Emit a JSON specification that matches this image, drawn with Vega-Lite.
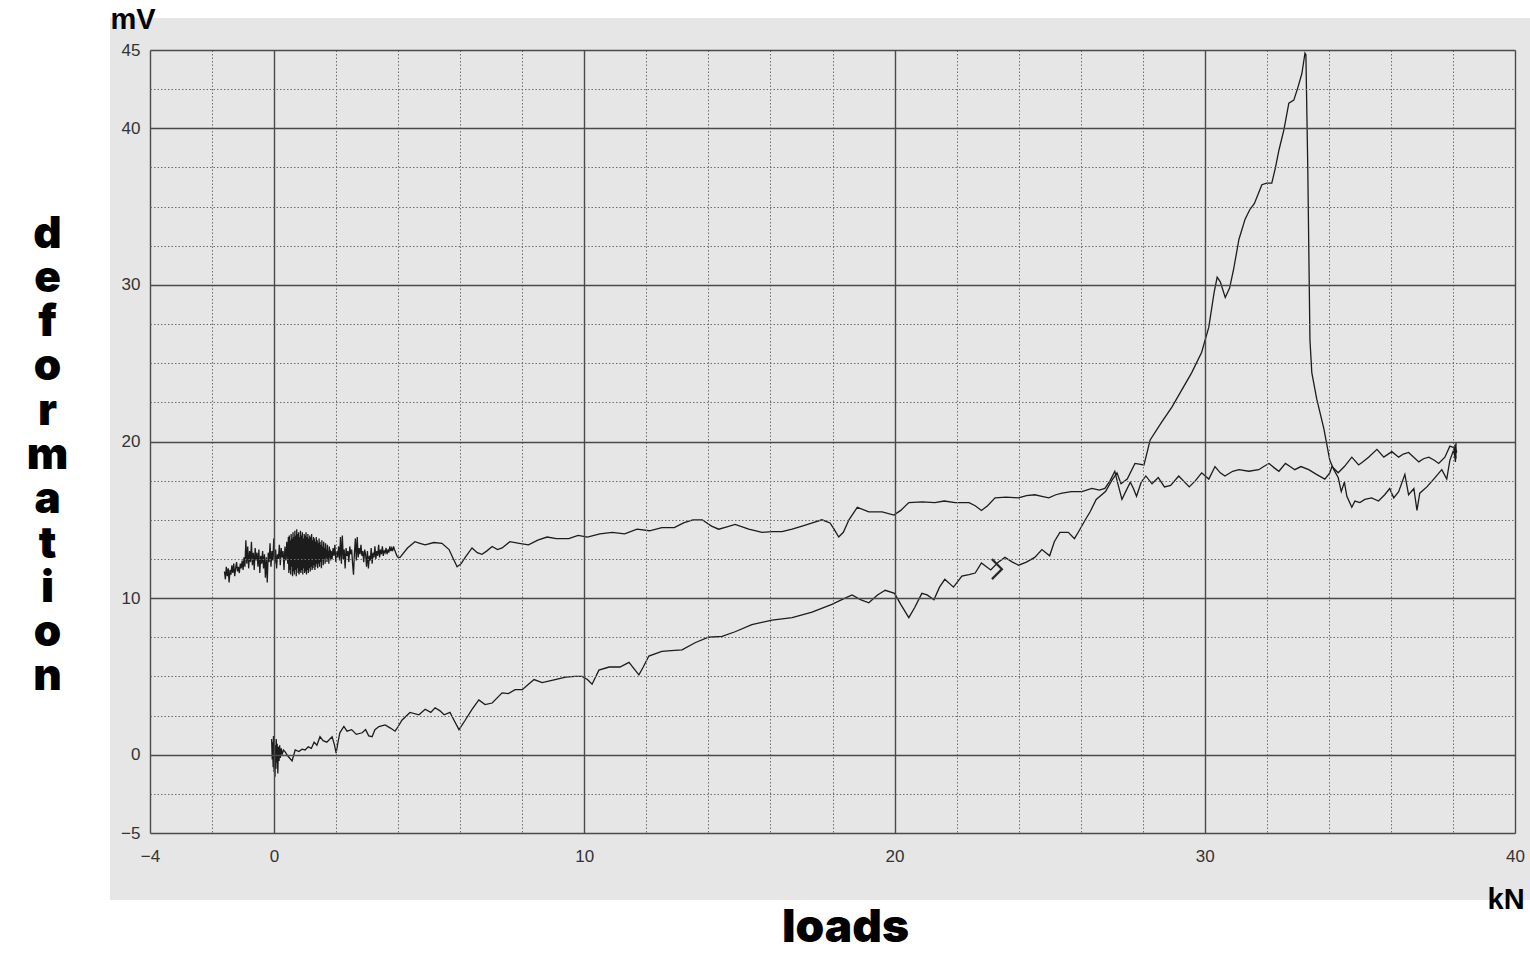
{
  "$schema": "https://vega.github.io/schema/vega-lite/v6.json",
  "width": 1365,
  "height": 783,
  "autosize": {"type": "none"},
  "padding": {"left": 150, "top": 50, "right": 15, "bottom": 120},
  "background": "white",
  "config": {"view": {"stroke": null}},
  "datasets": {
    "paper": [{"x1": -5.29, "x2": 40.5, "y1": -9.28, "y2": 47.05}],
    "marker": [{"x": 23.3, "y": 11.85}],
    "curves": [
      {"s":"B","x":-1.6,"y":11.7},{"s":"B","x":-1.57,"y":11.2},{"s":"B","x":-1.54,"y":12.0},{"s":"B","x":-1.51,"y":11.4},{"s":"B","x":-1.48,"y":11.9},{"s":"B","x":-1.45,"y":11.0},{"s":"B","x":-1.42,"y":11.8},{"s":"B","x":-1.39,"y":11.5},{"s":"B","x":-1.36,"y":12.1},{"s":"B","x":-1.33,"y":11.6},{"s":"B","x":-1.3,"y":12.2},{"s":"B","x":-1.27,"y":11.4},{"s":"B","x":-1.24,"y":11.9},{"s":"B","x":-1.21,"y":12.3},{"s":"B","x":-1.18,"y":11.7},{"s":"B","x":-1.15,"y":12.0},{"s":"B","x":-1.12,"y":11.6},{"s":"B","x":-1.09,"y":12.2},{"s":"B","x":-1.06,"y":11.9},{"s":"B","x":-1.03,"y":12.4},{"s":"B","x":-1.0,"y":11.8},{"s":"B","x":-0.97,"y":12.6},{"s":"B","x":-0.94,"y":12.0},{"s":"B","x":-0.91,"y":13.7},{"s":"B","x":-0.88,"y":12.2},{"s":"B","x":-0.85,"y":13.3},{"s":"B","x":-0.82,"y":11.9},{"s":"B","x":-0.79,"y":13.0},{"s":"B","x":-0.76,"y":12.3},{"s":"B","x":-0.73,"y":13.6},{"s":"B","x":-0.7,"y":12.1},{"s":"B","x":-0.67,"y":12.9},{"s":"B","x":-0.64,"y":11.8},{"s":"B","x":-0.61,"y":13.2},{"s":"B","x":-0.58,"y":12.4},{"s":"B","x":-0.55,"y":12.9},{"s":"B","x":-0.52,"y":12.0},{"s":"B","x":-0.49,"y":13.1},{"s":"B","x":-0.46,"y":11.6},{"s":"B","x":-0.43,"y":12.7},{"s":"B","x":-0.4,"y":12.2},{"s":"B","x":-0.37,"y":13.0},{"s":"B","x":-0.34,"y":11.9},{"s":"B","x":-0.31,"y":12.8},{"s":"B","x":-0.28,"y":11.3},{"s":"B","x":-0.25,"y":12.6},{"s":"B","x":-0.22,"y":11.0},{"s":"B","x":-0.19,"y":12.9},{"s":"B","x":-0.16,"y":12.3},{"s":"B","x":-0.13,"y":13.5},{"s":"B","x":-0.1,"y":12.0},{"s":"B","x":-0.07,"y":13.0},{"s":"B","x":-0.04,"y":12.4},{"s":"B","x":-0.01,"y":13.8},{"s":"B","x":0.02,"y":12.2},{"s":"B","x":0.05,"y":13.1},{"s":"B","x":0.08,"y":11.9},{"s":"B","x":0.11,"y":12.8},{"s":"B","x":0.14,"y":12.5},{"s":"B","x":0.17,"y":13.4},{"s":"B","x":0.2,"y":12.1},{"s":"B","x":0.23,"y":13.2},{"s":"B","x":0.26,"y":12.6},{"s":"B","x":0.29,"y":13.0},{"s":"B","x":0.32,"y":11.8},{"s":"B","x":0.35,"y":13.3},{"s":"B","x":0.38,"y":12.4},{"s":"B","x":0.41,"y":13.6},{"s":"B","x":0.44,"y":12.2},
      {"s":"B","x":0.46,"y":13.9},{"s":"B","x":0.475,"y":11.6},{"s":"B","x":0.49,"y":14.0},{"s":"B","x":0.505,"y":11.8},{"s":"B","x":0.52,"y":13.7},{"s":"B","x":0.535,"y":11.5},{"s":"B","x":0.55,"y":14.1},{"s":"B","x":0.565,"y":12.0},{"s":"B","x":0.58,"y":13.8},{"s":"B","x":0.595,"y":11.4},{"s":"B","x":0.61,"y":14.2},{"s":"B","x":0.625,"y":11.7},{"s":"B","x":0.64,"y":13.9},{"s":"B","x":0.655,"y":11.5},{"s":"B","x":0.67,"y":14.3},{"s":"B","x":0.685,"y":11.8},{"s":"B","x":0.7,"y":14.0},{"s":"B","x":0.715,"y":11.4},{"s":"B","x":0.73,"y":14.4},{"s":"B","x":0.745,"y":11.9},{"s":"B","x":0.76,"y":14.1},{"s":"B","x":0.775,"y":11.6},{"s":"B","x":0.79,"y":14.2},{"s":"B","x":0.805,"y":11.5},{"s":"B","x":0.82,"y":13.9},{"s":"B","x":0.835,"y":11.7},{"s":"B","x":0.85,"y":14.3},{"s":"B","x":0.865,"y":11.6},{"s":"B","x":0.88,"y":14.0},{"s":"B","x":0.895,"y":11.8},{"s":"B","x":0.91,"y":14.2},{"s":"B","x":0.925,"y":11.5},{"s":"B","x":0.94,"y":13.8},{"s":"B","x":0.955,"y":11.9},{"s":"B","x":0.97,"y":14.1},{"s":"B","x":0.985,"y":11.6},{"s":"B","x":1.0,"y":14.0},{"s":"B","x":1.015,"y":11.7},{"s":"B","x":1.03,"y":14.2},{"s":"B","x":1.045,"y":11.5},{"s":"B","x":1.06,"y":13.9},{"s":"B","x":1.075,"y":11.8},{"s":"B","x":1.09,"y":14.1},{"s":"B","x":1.105,"y":11.6},{"s":"B","x":1.12,"y":13.8},{"s":"B","x":1.135,"y":11.9},{"s":"B","x":1.15,"y":14.0},{"s":"B","x":1.165,"y":11.7},{"s":"B","x":1.18,"y":13.9},{"s":"B","x":1.195,"y":12.0},{"s":"B","x":1.21,"y":14.1},{"s":"B","x":1.225,"y":11.8},{"s":"B","x":1.24,"y":13.7},{"s":"B","x":1.255,"y":11.9},{"s":"B","x":1.27,"y":13.9},{"s":"B","x":1.285,"y":12.1},{"s":"B","x":1.3,"y":13.8},{"s":"B","x":1.315,"y":11.8},{"s":"B","x":1.33,"y":13.6},{"s":"B","x":1.345,"y":12.0},{"s":"B","x":1.36,"y":13.9},{"s":"B","x":1.375,"y":12.2},{"s":"B","x":1.39,"y":13.7},{"s":"B","x":1.405,"y":11.9},{"s":"B","x":1.42,"y":13.5},{"s":"B","x":1.435,"y":12.2},{"s":"B","x":1.45,"y":13.8},{"s":"B","x":1.465,"y":12.0},{"s":"B","x":1.48,"y":13.6},{"s":"B","x":1.495,"y":12.3},{"s":"B","x":1.51,"y":13.4},{"s":"B","x":1.525,"y":11.9},{"s":"B","x":1.54,"y":13.7},{"s":"B","x":1.555,"y":12.4},{"s":"B","x":1.57,"y":13.3},{"s":"B","x":1.585,"y":12.1},{"s":"B","x":1.6,"y":13.6},{"s":"B","x":1.615,"y":12.5},{"s":"B","x":1.63,"y":13.2},{"s":"B","x":1.645,"y":12.2},{"s":"B","x":1.66,"y":13.5},{"s":"B","x":1.675,"y":12.6},{"s":"B","x":1.69,"y":13.1},{"s":"B","x":1.705,"y":12.3},{"s":"B","x":1.72,"y":13.4},{"s":"B","x":1.735,"y":12.5},{"s":"B","x":1.75,"y":13.0},{"s":"B","x":1.765,"y":12.2},{"s":"B","x":1.78,"y":13.3},{"s":"B","x":1.795,"y":12.6},{"s":"B","x":1.81,"y":13.1},{"s":"B","x":1.825,"y":12.4},{"s":"B","x":1.84,"y":13.0},
      {"s":"B","x":1.87,"y":12.5},{"s":"B","x":1.9,"y":13.2},{"s":"B","x":1.93,"y":12.7},{"s":"B","x":1.96,"y":13.4},{"s":"B","x":1.99,"y":12.3},{"s":"B","x":2.02,"y":13.0},{"s":"B","x":2.05,"y":12.6},{"s":"B","x":2.08,"y":13.3},{"s":"B","x":2.11,"y":12.4},{"s":"B","x":2.14,"y":13.9},{"s":"B","x":2.17,"y":12.2},{"s":"B","x":2.2,"y":14.0},{"s":"B","x":2.23,"y":12.5},{"s":"B","x":2.26,"y":13.1},{"s":"B","x":2.29,"y":11.9},{"s":"B","x":2.32,"y":13.2},{"s":"B","x":2.35,"y":12.7},{"s":"B","x":2.38,"y":13.0},{"s":"B","x":2.41,"y":12.3},{"s":"B","x":2.44,"y":13.3},{"s":"B","x":2.47,"y":12.8},{"s":"B","x":2.5,"y":13.1},{"s":"B","x":2.53,"y":12.2},{"s":"B","x":2.56,"y":11.5},{"s":"B","x":2.59,"y":12.9},{"s":"B","x":2.62,"y":13.8},{"s":"B","x":2.65,"y":12.4},{"s":"B","x":2.68,"y":13.9},{"s":"B","x":2.71,"y":12.6},{"s":"B","x":2.74,"y":13.2},{"s":"B","x":2.77,"y":12.8},{"s":"B","x":2.8,"y":13.4},{"s":"B","x":2.83,"y":12.7},{"s":"B","x":2.86,"y":13.0},{"s":"B","x":2.89,"y":12.3},{"s":"B","x":2.92,"y":13.1},{"s":"B","x":2.95,"y":12.8},{"s":"B","x":2.98,"y":12.0},{"s":"B","x":3.01,"y":13.0},{"s":"B","x":3.04,"y":11.9},{"s":"B","x":3.07,"y":12.7},{"s":"B","x":3.1,"y":12.4},{"s":"B","x":3.13,"y":13.2},{"s":"B","x":3.16,"y":12.2},{"s":"B","x":3.19,"y":12.9},{"s":"B","x":3.22,"y":12.6},{"s":"B","x":3.25,"y":13.3},{"s":"B","x":3.28,"y":12.5},{"s":"B","x":3.31,"y":13.0},{"s":"B","x":3.34,"y":12.7},{"s":"B","x":3.37,"y":13.4},{"s":"B","x":3.4,"y":12.6},{"s":"B","x":3.43,"y":13.1},{"s":"B","x":3.46,"y":12.8},{"s":"B","x":3.49,"y":13.3},{"s":"B","x":3.52,"y":12.7},{"s":"B","x":3.55,"y":13.0},{"s":"B","x":3.58,"y":12.9},{"s":"B","x":3.61,"y":13.2},{"s":"B","x":3.64,"y":12.8},{"s":"B","x":3.67,"y":13.1},{"s":"B","x":3.7,"y":12.9},{"s":"B","x":3.73,"y":13.3},{"s":"B","x":3.76,"y":13.0},{"s":"B","x":3.79,"y":13.2},{"s":"B","x":3.82,"y":13.0},{"s":"B","x":3.85,"y":13.3},{"s":"B","x":3.88,"y":13.1},{"s":"B","x":3.92,"y":12.9},{"s":"B","x":3.96,"y":12.7},{"s":"B","x":4.0,"y":12.6},
      {"s":"B","x":4.06,"y":12.6},{"s":"B","x":4.3,"y":13.2},{"s":"B","x":4.54,"y":13.6},{"s":"B","x":4.7,"y":13.5},{"s":"B","x":4.87,"y":13.4},{"s":"B","x":5.15,"y":13.55},{"s":"B","x":5.41,"y":13.5},{"s":"B","x":5.64,"y":13.1},{"s":"B","x":5.78,"y":12.5},{"s":"B","x":5.9,"y":12.0},{"s":"B","x":6.03,"y":12.2},{"s":"B","x":6.16,"y":12.6},{"s":"B","x":6.38,"y":13.2},{"s":"B","x":6.55,"y":12.9},{"s":"B","x":6.7,"y":12.8},{"s":"B","x":6.85,"y":13.0},{"s":"B","x":7.03,"y":13.3},{"s":"B","x":7.2,"y":13.1},{"s":"B","x":7.35,"y":13.2},{"s":"B","x":7.6,"y":13.6},{"s":"B","x":7.9,"y":13.5},{"s":"B","x":8.2,"y":13.4},{"s":"B","x":8.5,"y":13.7},{"s":"B","x":8.8,"y":13.9},{"s":"B","x":9.1,"y":13.8},{"s":"B","x":9.5,"y":13.8},{"s":"B","x":9.8,"y":14.0},{"s":"B","x":10.1,"y":13.9},{"s":"B","x":10.5,"y":14.1},{"s":"B","x":10.9,"y":14.2},{"s":"B","x":11.3,"y":14.1},{"s":"B","x":11.7,"y":14.4},{"s":"B","x":12.1,"y":14.3},{"s":"B","x":12.5,"y":14.5},{"s":"B","x":12.9,"y":14.5},{"s":"B","x":13.2,"y":14.8},{"s":"B","x":13.5,"y":15.0},{"s":"B","x":13.8,"y":15.0},{"s":"B","x":14.1,"y":14.6},{"s":"B","x":14.33,"y":14.4},{"s":"B","x":14.6,"y":14.55},{"s":"B","x":14.86,"y":14.7},{"s":"B","x":15.3,"y":14.4},{"s":"B","x":15.73,"y":14.2},{"s":"B","x":16.05,"y":14.25},{"s":"B","x":16.37,"y":14.25},{"s":"B","x":16.7,"y":14.4},{"s":"B","x":17.02,"y":14.6},{"s":"B","x":17.35,"y":14.8},{"s":"B","x":17.66,"y":15.0},{"s":"B","x":17.92,"y":14.8},{"s":"B","x":18.05,"y":14.4},{"s":"B","x":18.2,"y":13.9},{"s":"B","x":18.35,"y":14.2},{"s":"B","x":18.53,"y":15.0},{"s":"B","x":18.8,"y":15.8},{"s":"B","x":19.17,"y":15.5},{"s":"B","x":19.6,"y":15.5},{"s":"B","x":19.98,"y":15.3},{"s":"B","x":20.2,"y":15.6},{"s":"B","x":20.46,"y":16.1},{"s":"B","x":20.9,"y":16.15},{"s":"B","x":21.3,"y":16.1},{"s":"B","x":21.6,"y":16.2},{"s":"B","x":21.95,"y":16.1},{"s":"B","x":22.4,"y":16.1},{"s":"B","x":22.6,"y":15.9},{"s":"B","x":22.8,"y":15.6},{"s":"B","x":23.0,"y":15.9},{"s":"B","x":23.24,"y":16.4},{"s":"B","x":23.6,"y":16.45},{"s":"B","x":24.0,"y":16.4},{"s":"B","x":24.25,"y":16.55},{"s":"B","x":24.52,"y":16.6},{"s":"B","x":24.75,"y":16.5},{"s":"B","x":24.97,"y":16.4},{"s":"B","x":25.2,"y":16.6},{"s":"B","x":25.4,"y":16.7},{"s":"B","x":25.7,"y":16.8},{"s":"B","x":26.04,"y":16.8},{"s":"B","x":26.36,"y":17.0},{"s":"B","x":26.6,"y":16.9},{"s":"B","x":26.78,"y":17.0},{"s":"B","x":26.95,"y":17.5},{"s":"B","x":27.1,"y":18.1},{"s":"B","x":27.2,"y":17.3},{"s":"B","x":27.33,"y":16.3},{"s":"B","x":27.45,"y":16.8},{"s":"B","x":27.6,"y":17.4},{"s":"B","x":27.7,"y":17.0},{"s":"B","x":27.8,"y":16.5},{"s":"B","x":27.95,"y":17.4},{"s":"B","x":28.1,"y":17.8},{"s":"B","x":28.3,"y":17.3},{"s":"B","x":28.5,"y":17.7},{"s":"B","x":28.7,"y":17.1},{"s":"B","x":28.9,"y":17.2},{"s":"B","x":29.16,"y":17.8},{"s":"B","x":29.5,"y":17.1},{"s":"B","x":29.7,"y":17.5},{"s":"B","x":29.9,"y":18.0},{"s":"B","x":30.13,"y":17.6},{"s":"B","x":30.33,"y":18.4},{"s":"B","x":30.5,"y":18.0},{"s":"B","x":30.65,"y":17.8},{"s":"B","x":30.9,"y":18.1},{"s":"B","x":31.1,"y":18.2},{"s":"B","x":31.42,"y":18.1},{"s":"B","x":31.74,"y":18.2},{"s":"B","x":31.9,"y":18.4},{"s":"B","x":32.07,"y":18.6},{"s":"B","x":32.25,"y":18.3},{"s":"B","x":32.39,"y":18.1},{"s":"B","x":32.6,"y":18.6},{"s":"B","x":32.75,"y":18.4},{"s":"B","x":32.9,"y":18.2},{"s":"B","x":33.1,"y":18.4},{"s":"B","x":33.35,"y":18.2},{"s":"B","x":33.6,"y":17.9},{"s":"B","x":33.87,"y":17.6},{"s":"B","x":34.03,"y":18.0},{"s":"B","x":34.1,"y":18.4},{"s":"B","x":34.3,"y":18.0},{"s":"B","x":34.5,"y":18.4},{"s":"B","x":34.74,"y":19.0},{"s":"B","x":34.96,"y":18.5},{"s":"B","x":35.1,"y":18.7},{"s":"B","x":35.28,"y":19.0},{"s":"B","x":35.55,"y":19.5},{"s":"B","x":35.77,"y":19.0},{"s":"B","x":36.03,"y":19.35},{"s":"B","x":36.25,"y":19.0},{"s":"B","x":36.4,"y":19.2},{"s":"B","x":36.57,"y":19.3},{"s":"B","x":36.9,"y":18.7},{"s":"B","x":37.05,"y":18.9},{"s":"B","x":37.22,"y":19.0},{"s":"B","x":37.4,"y":18.8},{"s":"B","x":37.54,"y":18.6},{"s":"B","x":37.74,"y":19.0},{"s":"B","x":37.9,"y":19.7},{"s":"B","x":38.03,"y":19.6},{"s":"B","x":38.1,"y":18.9},{"s":"B","x":38.06,"y":19.8},{"s":"B","x":38.12,"y":19.3},
      {"s":"A","x":-0.08,"y":1.0},{"s":"A","x":-0.06,"y":-0.3},{"s":"A","x":-0.05,"y":0.8},{"s":"A","x":-0.03,"y":-0.8},{"s":"A","x":-0.02,"y":1.2},{"s":"A","x":0.0,"y":-1.1},{"s":"A","x":0.01,"y":0.9},{"s":"A","x":0.03,"y":-1.4},{"s":"A","x":0.04,"y":0.6},{"s":"A","x":0.06,"y":-0.9},{"s":"A","x":0.07,"y":1.0},{"s":"A","x":0.09,"y":-0.5},{"s":"A","x":0.1,"y":0.7},{"s":"A","x":0.12,"y":-1.2},{"s":"A","x":0.14,"y":0.5},{"s":"A","x":0.16,"y":-0.4},{"s":"A","x":0.18,"y":0.6},{"s":"A","x":0.2,"y":-0.2},{"s":"A","x":0.23,"y":0.4},{"s":"A","x":0.26,"y":0.0},{"s":"A","x":0.3,"y":0.3},{"s":"A","x":0.35,"y":0.2},{"s":"A","x":0.45,"y":-0.1},{"s":"A","x":0.58,"y":-0.4},{"s":"A","x":0.68,"y":0.3},{"s":"A","x":0.8,"y":0.2},{"s":"A","x":0.9,"y":0.35},{"s":"A","x":1.0,"y":0.3},{"s":"A","x":1.1,"y":0.5},{"s":"A","x":1.2,"y":0.4},{"s":"A","x":1.29,"y":0.8},{"s":"A","x":1.38,"y":0.6},{"s":"A","x":1.48,"y":1.15},{"s":"A","x":1.58,"y":0.9},{"s":"A","x":1.7,"y":0.8},{"s":"A","x":1.87,"y":1.15},{"s":"A","x":1.95,"y":0.6},{"s":"A","x":2.0,"y":0.1},{"s":"A","x":2.06,"y":0.8},{"s":"A","x":2.12,"y":1.4},{"s":"A","x":2.25,"y":1.8},{"s":"A","x":2.35,"y":1.5},{"s":"A","x":2.5,"y":1.6},{"s":"A","x":2.65,"y":1.3},{"s":"A","x":2.84,"y":1.4},{"s":"A","x":2.95,"y":1.6},{"s":"A","x":3.05,"y":1.2},{"s":"A","x":3.16,"y":1.15},{"s":"A","x":3.25,"y":1.6},{"s":"A","x":3.38,"y":1.8},{"s":"A","x":3.58,"y":1.9},{"s":"A","x":3.75,"y":1.7},{"s":"A","x":3.9,"y":1.5},{"s":"A","x":4.0,"y":1.8},{"s":"A","x":4.12,"y":2.2},{"s":"A","x":4.38,"y":2.7},{"s":"A","x":4.67,"y":2.55},{"s":"A","x":4.87,"y":2.9},{"s":"A","x":5.05,"y":2.7},{"s":"A","x":5.19,"y":3.0},{"s":"A","x":5.35,"y":2.8},{"s":"A","x":5.48,"y":2.55},{"s":"A","x":5.67,"y":2.7},{"s":"A","x":5.8,"y":2.2},{"s":"A","x":5.96,"y":1.6},{"s":"A","x":6.16,"y":2.2},{"s":"A","x":6.38,"y":2.9},{"s":"A","x":6.6,"y":3.5},{"s":"A","x":6.8,"y":3.2},{"s":"A","x":7.03,"y":3.3},{"s":"A","x":7.35,"y":3.95},{"s":"A","x":7.55,"y":3.9},{"s":"A","x":7.77,"y":4.15},{"s":"A","x":8.0,"y":4.15},{"s":"A","x":8.2,"y":4.5},{"s":"A","x":8.38,"y":4.8},{"s":"A","x":8.64,"y":4.6},{"s":"A","x":9.06,"y":4.8},{"s":"A","x":9.4,"y":4.95},{"s":"A","x":9.7,"y":5.0},{"s":"A","x":9.93,"y":5.0},{"s":"A","x":10.1,"y":4.8},{"s":"A","x":10.25,"y":4.5},{"s":"A","x":10.47,"y":5.4},{"s":"A","x":10.8,"y":5.6},{"s":"A","x":11.15,"y":5.6},{"s":"A","x":11.44,"y":5.9},{"s":"A","x":11.6,"y":5.5},{"s":"A","x":11.76,"y":5.1},{"s":"A","x":11.9,"y":5.6},{"s":"A","x":12.08,"y":6.3},{"s":"A","x":12.5,"y":6.6},{"s":"A","x":12.8,"y":6.65},{"s":"A","x":13.15,"y":6.7},{"s":"A","x":13.57,"y":7.15},{"s":"A","x":14.0,"y":7.5},{"s":"A","x":14.44,"y":7.55},{"s":"A","x":14.86,"y":7.85},{"s":"A","x":15.4,"y":8.3},{"s":"A","x":16.05,"y":8.6},{"s":"A","x":16.7,"y":8.75},{"s":"A","x":17.34,"y":9.1},{"s":"A","x":17.98,"y":9.6},{"s":"A","x":18.3,"y":9.9},{"s":"A","x":18.63,"y":10.2},{"s":"A","x":18.9,"y":9.9},{"s":"A","x":19.17,"y":9.7},{"s":"A","x":19.45,"y":10.2},{"s":"A","x":19.7,"y":10.5},{"s":"A","x":20.0,"y":10.3},{"s":"A","x":20.2,"y":9.6},{"s":"A","x":20.46,"y":8.75},{"s":"A","x":20.65,"y":9.4},{"s":"A","x":20.88,"y":10.3},{"s":"A","x":21.05,"y":10.2},{"s":"A","x":21.27,"y":9.9},{"s":"A","x":21.45,"y":10.7},{"s":"A","x":21.62,"y":11.2},{"s":"A","x":21.9,"y":10.7},{"s":"A","x":22.17,"y":11.4},{"s":"A","x":22.4,"y":11.5},{"s":"A","x":22.6,"y":11.6},{"s":"A","x":22.8,"y":12.25},{"s":"A","x":23.1,"y":11.8},{"s":"A","x":23.35,"y":12.3},{"s":"A","x":23.56,"y":12.6},{"s":"A","x":23.8,"y":12.3},{"s":"A","x":24.0,"y":12.1},{"s":"A","x":24.25,"y":12.3},{"s":"A","x":24.52,"y":12.6},{"s":"A","x":24.75,"y":13.1},{"s":"A","x":25.0,"y":12.7},{"s":"A","x":25.15,"y":13.6},{"s":"A","x":25.33,"y":14.2},{"s":"A","x":25.6,"y":14.2},{"s":"A","x":25.8,"y":13.8},{"s":"A","x":25.95,"y":14.3},{"s":"A","x":26.15,"y":15.0},{"s":"A","x":26.3,"y":15.5},{"s":"A","x":26.5,"y":16.3},{"s":"A","x":26.8,"y":16.8},{"s":"A","x":27.0,"y":17.5},{"s":"A","x":27.17,"y":18.0},{"s":"A","x":27.3,"y":17.3},{"s":"A","x":27.5,"y":17.6},{"s":"A","x":27.75,"y":18.6},{"s":"A","x":28.04,"y":18.5},{"s":"A","x":28.24,"y":20.1},{"s":"A","x":28.6,"y":21.2},{"s":"A","x":28.94,"y":22.2},{"s":"A","x":29.26,"y":23.3},{"s":"A","x":29.58,"y":24.4},{"s":"A","x":29.9,"y":25.7},{"s":"A","x":30.13,"y":27.3},{"s":"A","x":30.3,"y":29.5},{"s":"A","x":30.4,"y":30.5},{"s":"A","x":30.5,"y":30.2},{"s":"A","x":30.66,"y":29.2},{"s":"A","x":30.8,"y":29.8},{"s":"A","x":30.93,"y":31.0},{"s":"A","x":31.1,"y":32.9},{"s":"A","x":31.3,"y":34.2},{"s":"A","x":31.45,"y":34.8},{"s":"A","x":31.6,"y":35.2},{"s":"A","x":31.84,"y":36.4},{"s":"A","x":32.0,"y":36.5},{"s":"A","x":32.16,"y":36.5},{"s":"A","x":32.28,"y":37.5},{"s":"A","x":32.39,"y":38.6},{"s":"A","x":32.55,"y":39.9},{"s":"A","x":32.71,"y":41.6},{"s":"A","x":32.87,"y":41.8},{"s":"A","x":33.0,"y":42.6},{"s":"A","x":33.13,"y":43.5},{"s":"A","x":33.23,"y":44.8},{"s":"A","x":33.26,"y":44.7},{"s":"A","x":33.32,"y":37.5},{"s":"A","x":33.39,"y":26.5},{"s":"A","x":33.45,"y":24.4},{"s":"A","x":33.61,"y":22.7},{"s":"A","x":33.84,"y":20.8},{"s":"A","x":34.03,"y":18.8},{"s":"A","x":34.16,"y":18.2},{"s":"A","x":34.3,"y":17.7},{"s":"A","x":34.4,"y":16.8},{"s":"A","x":34.5,"y":17.4},{"s":"A","x":34.58,"y":16.5},{"s":"A","x":34.74,"y":15.8},{"s":"A","x":34.84,"y":16.2},{"s":"A","x":35.0,"y":16.1},{"s":"A","x":35.16,"y":16.3},{"s":"A","x":35.38,"y":16.4},{"s":"A","x":35.6,"y":16.2},{"s":"A","x":35.8,"y":16.6},{"s":"A","x":35.96,"y":17.0},{"s":"A","x":36.09,"y":16.4},{"s":"A","x":36.25,"y":16.8},{"s":"A","x":36.45,"y":17.9},{"s":"A","x":36.57,"y":16.6},{"s":"A","x":36.74,"y":17.0},{"s":"A","x":36.84,"y":15.6},{"s":"A","x":36.93,"y":16.7},{"s":"A","x":37.16,"y":17.1},{"s":"A","x":37.38,"y":17.6},{"s":"A","x":37.64,"y":18.2},{"s":"A","x":37.8,"y":17.6},{"s":"A","x":37.9,"y":18.8},{"s":"A","x":38.03,"y":19.5},{"s":"A","x":38.08,"y":18.7},{"s":"A","x":38.1,"y":19.9},{"s":"A","x":38.06,"y":19.0},{"s":"A","x":38.12,"y":19.4}
    ]
  },
  "resolve": {"axis": {"x": "independent", "y": "independent"}},
  "layer": [
    {
      "data": {"name": "paper"},
      "mark": {"type": "rect", "color": "#e6e6e6"},
      "encoding": {
        "x": {"field": "x1", "type": "quantitative", "scale": {"domain": [-4, 40], "nice": false, "zero": false}, "axis": null},
        "x2": {"field": "x2"},
        "y": {"field": "y1", "type": "quantitative", "scale": {"domain": [-5, 45], "nice": false, "zero": false}, "axis": null},
        "y2": {"field": "y2"}
      }
    },
    {
      "data": {"name": "curves"},
      "mark": {"type": "line", "color": "#1c1c1c", "strokeWidth": 1.3},
      "encoding": {
        "x": {
          "field": "x", "type": "quantitative",
          "scale": {"domain": [-4, 40], "nice": false, "zero": false},
          "axis": {
            "orient": "bottom",
            "values": [-4,-2,0,2,4,6,8,10,12,14,16,18,20,22,24,26,28,30,32,34,36,38,40],
            "labelExpr": "indexof([-4,0,10,20,30,40], datum.value) >= 0 ? datum.label : ''",
            "labelFont": "Liberation Sans", "labelFontSize": 17, "labelColor": "#333333",
            "labelPadding": 15, "labelFlush": false, "labelOverlap": false,
            "ticks": false, "domain": false, "grid": true,
            "gridColor": {"condition": {"test": "datum.value % 10 === 0 || datum.value === -4", "value": "#4a4a4a"}, "value": "#6e6e6e"},
            "gridDash": {"condition": {"test": "datum.value % 10 === 0 || datum.value === -4", "value": []}, "value": [1.5, 2]},
            "gridWidth": {"condition": {"test": "datum.value % 10 === 0 || datum.value === -4", "value": 1.4}, "value": 1},
            "title": "kN", "titleFont": "Liberation Sans", "titleFontSize": 29, "titleFontWeight": "bold", "titleColor": "#000000",
            "titleX": 1337, "titleY": 75, "titleAlign": "left", "titleBaseline": "alphabetic",
            "zindex": 1
          }
        },
        "y": {
          "field": "y", "type": "quantitative",
          "scale": {"domain": [-5, 45], "nice": false, "zero": false},
          "axis": {
            "orient": "left",
            "values": [-5,-2.5,0,2.5,5,7.5,10,12.5,15,17.5,20,22.5,25,27.5,30,32.5,35,37.5,40,42.5,45],
            "labelExpr": "indexof([-5,0,10,20,30,40,45], datum.value) >= 0 ? datum.label : ''",
            "labelFont": "Liberation Sans", "labelFontSize": 17, "labelColor": "#333333",
            "labelPadding": 10, "labelFlush": false, "labelOverlap": false,
            "ticks": false, "domain": false, "grid": true,
            "gridColor": {"condition": {"test": "datum.value % 10 === 0 || datum.value === 45 || datum.value === -5", "value": "#4a4a4a"}, "value": "#6e6e6e"},
            "gridDash": {"condition": {"test": "datum.value % 10 === 0 || datum.value === 45 || datum.value === -5", "value": []}, "value": [1.5, 2]},
            "gridWidth": {"condition": {"test": "datum.value % 10 === 0 || datum.value === 45 || datum.value === -5", "value": 1.4}, "value": 1},
            "title": "mV", "titleFont": "Liberation Sans", "titleFontSize": 29, "titleFontWeight": "bold", "titleColor": "#000000",
            "titleAngle": 0, "titleX": -40, "titleY": -22, "titleAlign": "left", "titleBaseline": "alphabetic",
            "zindex": 1
          }
        },
        "detail": {"field": "s", "type": "nominal"},
        "order": {"value": null}
      }
    },
    {
      "data": {"name": "marker"},
      "mark": {"type": "point", "shape": "M-0.5,-1L0.5,0L-0.5,1", "filled": false, "size": 400, "stroke": "#2a2a2a", "strokeWidth": 2.2, "opacity": 1},
      "encoding": {
        "x": {
          "field": "x", "type": "quantitative",
          "scale": {"domain": [-4, 40], "nice": false, "zero": false},
          "axis": {
            "orient": "bottom",
            "labels": false, "ticks": false, "domain": false, "grid": false,
            "title": "loads", "titleFont": "Inter", "titleFontSize": 46, "titleFontWeight": 900, "titleColor": "#000000",
            "titleX": 695, "titleY": 108, "titleAlign": "center", "titleBaseline": "alphabetic",
            "zindex": 1
          }
        },
        "y": {
          "field": "y", "type": "quantitative",
          "scale": {"domain": [-5, 45], "nice": false, "zero": false},
          "axis": {
            "orient": "left",
            "labels": false, "ticks": false, "domain": false, "grid": false,
            "title": ["d","e","f","o","r","m","a","t","i","o","n"],
            "titleFont": "Inter", "titleFontSize": 44, "titleFontWeight": 900, "titleColor": "#000000",
            "titleAngle": 0, "titleX": -103, "titleY": 197, "titleAlign": "center", "titleBaseline": "alphabetic",
            "titleLineHeight": 44.3,
            "zindex": 1
          }
        }
      }
    }
  ]
}
